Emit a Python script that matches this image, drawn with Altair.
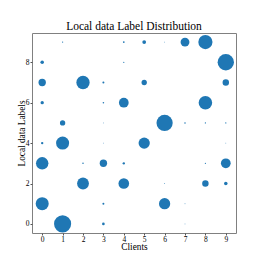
import altair as alt
import pandas as pd

clients = [1, 4, 5, 6, 7, 8,
           0, 4, 9,
           0, 2, 3, 5, 9,
           0, 3, 4, 8,
           1, 3, 6, 7, 8, 9,
           0, 1, 3, 5, 9,
           0, 2, 3, 4, 8, 9,
           2, 4, 6, 8, 9,
           0, 3, 6, 7,
           1, 3, 7]
labels = [9, 9, 9, 9, 9, 9,
          8, 8, 8,
          7, 7, 7, 7, 7,
          6, 6, 6, 6,
          5, 5, 5, 5, 5, 5,
          4, 4, 4, 4, 4,
          3, 3, 3, 3, 3, 3,
          2, 2, 2, 2, 2,
          1, 1, 1, 1,
          0, 0, 0]
counts = [2, 4, 18, 1, 100, 256,
          16, 2, 342,
          69, 225, 5, 36, 53,
          14, 3, 121, 234,
          36, 1, 335, 3, 2, 2,
          7, 216, 1, 161, 1,
          196, 3, 69, 7, 2, 121,
          177, 144, 1, 53, 16,
          216, 5, 161, 1,
          372, 9, 1]

x_ticks = list(range(10))
y_ticks = [0, 2, 4, 6, 8]

df = pd.DataFrame({"client": clients, "label": labels, "count": counts})

FONT = "Liberation Serif"

chart = alt.Chart(df).mark_circle(color="#1f77b4", opacity=1).encode(
    x=alt.X("client:Q", title="Clients",
            scale=alt.Scale(domain=[-0.5, 9.5], nice=False, zero=False),
            axis=alt.Axis(values=x_ticks, format="d", tickSize=2, labelPadding=0,
                          titlePadding=0)),
    y=alt.Y("label:Q", title="Local data Labels",
            scale=alt.Scale(domain=[-0.45, 9.45], nice=False, zero=False),
            axis=alt.Axis(values=y_ticks, format="d", tickSize=2, labelPadding=1,
                          titlePadding=-1)),
    size=alt.Size("count:Q", legend=None,
                  scale=alt.Scale(type="linear", domain=[0, 400], range=[0, 314], zero=True)),
).properties(
    width=204, height=200,
    title=alt.TitleParams("Local data Label Distribution", font=FONT, fontSize=11.5,
                          fontWeight="normal", color="black", offset=1),
    autosize=alt.AutoSizeParams(type="none"),
    padding={"left": 24, "top": 25, "right": 19, "bottom": 22},
).configure_view(
    stroke="#808080", strokeWidth=1
).configure_axis(
    grid=False, domain=False, labelFont=FONT, titleFont=FONT,
    labelFontSize=7.5, titleFontSize=9.3, titleFontWeight="normal",
    labelColor="black", titleColor="black", tickColor="#555555"
)

chart.save("out.html", embed_options={"renderer": "svg", "actions": False})
